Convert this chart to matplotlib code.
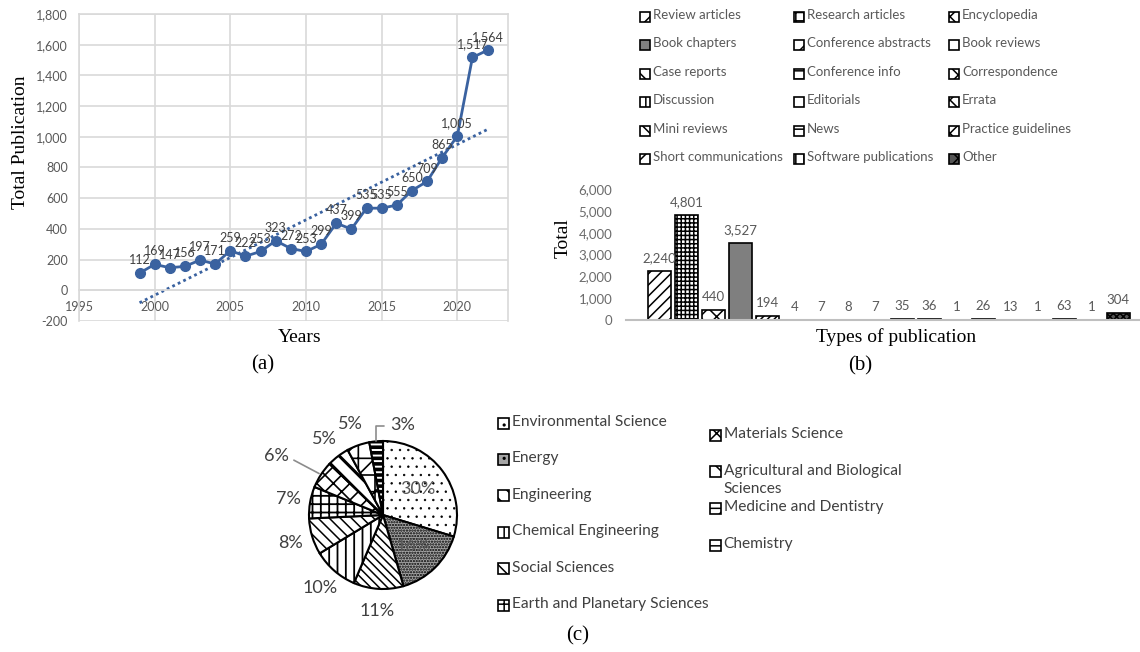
import numpy as np
import matplotlib
matplotlib.use("Agg")
import matplotlib.pyplot as plt
from matplotlib.patches import Rectangle
from matplotlib.ticker import FuncFormatter

plt.rcParams['font.family'] = ['Lato', 'DejaVu Sans']
plt.rcParams['hatch.linewidth'] = 1.1

# (a) publications per year
years = np.arange(1999, 2023)
pubs = np.array([112, 169, 147, 156, 197, 171, 259, 222, 253, 323, 272, 253,
                 299, 437, 399, 535, 535, 555, 650, 709, 865, 1005, 1517, 1564])

# (b) types of publication
types = ["Review articles", "Research articles", "Encyclopedia",
         "Book chapters", "Conference abstracts", "Book reviews",
         "Case reports", "Conference info", "Correspondence",
         "Discussion", "Editorials", "Errata",
         "Mini reviews", "News", "Practice guidelines",
         "Short communications", "Software publications", "Other"]
totals = [2240, 4801, 440, 3527, 194, 4, 7, 8, 7, 35, 36, 1, 26, 13, 1, 63, 1, 304]

# (c) subject areas (%)
areas = ["Environmental Science", "Energy", "Engineering", "Chemical Engineering",
         "Social Sciences", "Earth and Planetary Sciences", "Materials Science",
         "Agricultural and Biological\nSciences", "Medicine and Dentistry", "Chemistry"]
shares = [30, 16, 11, 10, 8, 7, 6, 5, 5, 3]

# styles
bar_hatch = ['///', '++++', 'xx', '', '/////', '', '\\\\\\', '--', 'xx',
             '||', '', 'xxxx', '\\\\', '--', 'xxxx', '//', '||', 'xxxxx']
bar_face = ['white'] * 18
bar_face[3] = '#7f7f7f'
bar_face[17] = '#555555'
pie_hatch = ['..', '......', '\\\\\\\\', '||', '\\\\\\', '++', 'xx', '\\\\', '/+', '---']
pie_hlw = [0.5, 1.1, 1.1, 1.3, 1.1, 1.3, 1.2, 2.2, 1.2, 2.6]
pie_face = ['white', '#a6a6a6'] + ['white'] * 8

BLUE = '#3a62a0'
W, H = 1140, 652
fig = plt.figure(figsize=(W / 100, H / 100), dpi=100)


def fx(x):
    return x / W


def fy(y):
    return 1 - y / H


def axes_px(left, top, right, bottom):
    return fig.add_axes([fx(left), fy(bottom), (right - left) / W, (bottom - top) / H])


def key(x, y, face, hatch, label, size, color, s=10):
    fig.add_artist(Rectangle((fx(x - s / 2), fy(y + s / 2)), s / W, s / H,
                             transform=fig.transFigure, facecolor=face,
                             edgecolor='black', hatch=hatch, lw=1.2))
    fig.text(fx(x + s / 2 + 3), fy(y - 8), label, ha='left', va='top',
             fontsize=size, color=color, linespacing=1.4)


serif = dict(family='Liberation Serif', color='black')
comma = FuncFormatter(lambda v, p: f'{int(v):,}')

# ---------------- (a) ----------------
ax = axes_px(79, 14, 508, 321)
ax.plot(years, pubs, color=BLUE, lw=2, marker='o', ms=7, zorder=3)
fit = np.polyfit(years, pubs, 1)
ends = years[[0, -1]]
ax.plot(ends, np.polyval(fit, ends), color=BLUE, lw=2, ls=(0, (1, 1.2)), zorder=2)
for x, y in zip(years, pubs):
    ax.annotate(f'{y:,}', (x, y), xytext=(0, 5), textcoords='offset points',
                ha='center', va='bottom', fontsize=9, color='#404040')
ax.set_xlim(1995, 2023.35)
ax.set_ylim(-200, 1800)
ax.set_xticks(range(1995, 2021, 5))
ax.set_yticks(range(-200, 1801, 200))
ax.yaxis.set_major_formatter(comma)
ax.grid(color='#d9d9d9', lw=1.2)
ax.set_axisbelow(True)
for s in ax.spines.values():
    s.set_color('#d9d9d9')
    s.set_linewidth(1.2)
ax.spines['bottom'].set_position(('data', 0))
ax.tick_params(length=0, labelsize=9, labelcolor='#595959', pad=8)
fig.text(fx(21), fy(142), 'Total Publication', rotation=90, ha='center', va='center',
         fontsize=14, **serif)
fig.text(fx(300), fy(337), 'Years', ha='center', va='center', fontsize=14, **serif)
fig.text(fx(263), fy(365), '(a)', ha='center', va='center', fontsize=15, **serif)

# ---------------- (b) ----------------
bx = axes_px(626, 189, 1140, 320)
pos = np.arange(len(types))
bars = bx.bar(pos, totals, width=0.85, color=bar_face, edgecolor='black', lw=1.2)
for b, h in zip(bars, bar_hatch):
    b.set_hatch(h)
bx.bar_label(bars, labels=[f'{v:,}' for v in totals], padding=5,
             fontsize=9.5, color='#595959')
bx.set_xlim(-1.24, 17.8)
bx.set_ylim(0, 6000)
bx.set_xticks([])
bx.set_yticks(range(0, 6001, 1000))
bx.yaxis.set_major_formatter(comma)
for s in ['top', 'right', 'left']:
    bx.spines[s].set_visible(False)
bx.spines['bottom'].set_color('#bfbfbf')
bx.spines['bottom'].set_linewidth(1.5)
bx.tick_params(axis='y', length=0, labelsize=9.5, labelcolor='#6b6b6b', pad=10)
bx.patch.set_alpha(0)
fig.text(fx(563), fy(238), 'Total', rotation=90, ha='center', va='center',
         fontsize=14, **serif)
fig.text(fx(896), fy(337), 'Types of publication', ha='center', va='center',
         fontsize=14, **serif)
fig.text(fx(860), fy(366), '(b)', ha='center', va='center', fontsize=15, **serif)

for i, name in enumerate(types):
    r, c = divmod(i, 3)
    key([645, 799, 954][c], 17 + 28.4 * r, bar_face[i], bar_hatch[i][:2], name,
        9.5, '#595959')

# ---------------- (c) ----------------
R = 74
cx = axes_px(383 - 150, 515 - 110, 383 + 150, 515 + 110)
wedges, _ = cx.pie(shares, startangle=90, counterclock=False, colors=pie_face,
                   wedgeprops=dict(edgecolor='black', lw=1.5))
for w, h, lw in zip(wedges, pie_hatch, pie_hlw):
    w.set_hatch(h)
    if hasattr(w, 'set_hatch_linewidth'):
        w.set_hatch_linewidth(lw)
cx.set_xlim(-150 / R, 150 / R)
cx.set_ylim(-110 / R, 110 / R)

for i, (w, v) in enumerate(zip(wedges, shares)):
    mid = np.deg2rad((w.theta1 + w.theta2) / 2)
    txt = f'{v}%'
    if i < 2:
        cx.text(0.58 * np.cos(mid), 0.58 * np.sin(mid), txt, ha='center', va='center',
                fontsize=13, color='#595959')
    elif i == 6:
        a = np.deg2rad(151)
        cx.annotate(txt, (1.03 * np.cos(mid), 1.03 * np.sin(mid)),
                    xytext=(1.65 * np.cos(a), 1.65 * np.sin(a)), ha='center', va='center',
                    fontsize=13, color='#404040',
                    arrowprops=dict(arrowstyle='-', color='#8c8c8c', lw=1.2,
                                    relpos=(1, 0.4), shrinkA=2, shrinkB=0))
    elif i == 9:
        a = np.deg2rad(77.5)
        cx.annotate(txt, (1.0 * np.cos(mid), 1.0 * np.sin(mid)),
                    xytext=(1.25 * np.cos(a), 1.25 * np.sin(a)), ha='center', va='center',
                    fontsize=13, color='#404040',
                    arrowprops=dict(arrowstyle='-', color='#8c8c8c', lw=1.2,
                                    relpos=(0, 0.4), shrinkA=3, shrinkB=0,
                                    connectionstyle='angle,angleA=0,angleB=90,rad=0'))
    else:
        cx.text(1.3 * np.cos(mid), 1.3 * np.sin(mid), txt, ha='center', va='center',
                fontsize=13, color='#404040')

for i, name in enumerate(areas):
    if i < 6:
        key(503, 423 + 36.4 * i, pie_face[i], pie_hatch[i][:2], name, 11.2, '#404040', s=11)
    else:
        key(715, 435 + 36.7 * (i - 6), pie_face[i], pie_hatch[i][:2], name, 11.2,
            '#404040', s=11)
fig.text(fx(578), fy(636), '(c)', ha='center', va='center', fontsize=15, **serif)

fig.savefig('out.png', dpi=100)
